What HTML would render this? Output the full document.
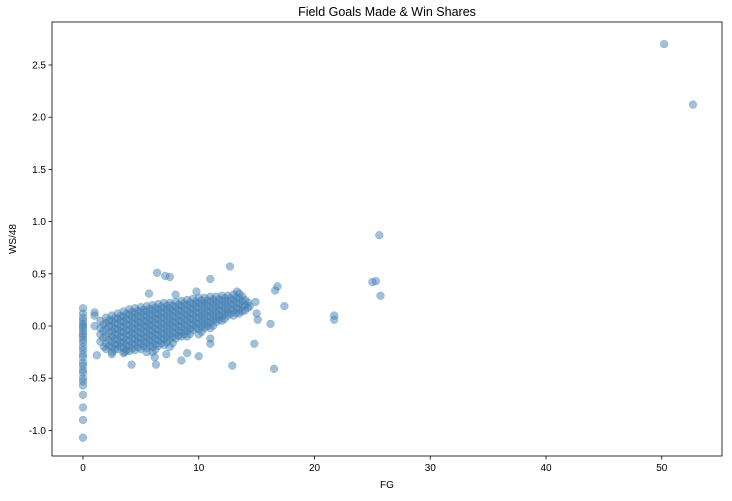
<!DOCTYPE html>
<html><head><meta charset="utf-8"><style>
body{margin:0;background:#fff;font-family:"Liberation Sans",sans-serif}
svg text{font-family:"Liberation Sans",sans-serif;font-size:10px;fill:#000}
</style></head><body>
<svg id="chart" width="732" height="496"></svg>
<script>
const colFg=[1.5,2,2.5,3,3.5,4,4.5,5,5.5,6,6.5,7,7.5,8,8.5,9,9.5,10,10.5,11,11.5,12,12.5,13,13.5,14];
const colWs=[
[0.05,-0.02,-0.08,-0.15],
[0.08,0.03,-0.03,-0.1,-0.17,-0.22],
[0.1,0.05,0,-0.05,-0.1,-0.15,-0.2,-0.25],
[0.12,0.07,0.02,-0.03,-0.08,-0.13,-0.18,-0.22],
[0.14,0.09,0.04,-0.01,-0.06,-0.11,-0.16,-0.21,-0.26],
[0.16,0.11,0.06,0.01,-0.04,-0.09,-0.14,-0.19,-0.24],
[0.17,0.12,0.07,0.02,-0.03,-0.08,-0.13,-0.18,-0.23],
[0.18,0.13,0.08,0.03,-0.02,-0.07,-0.12,-0.17,-0.22],
[0.19,0.14,0.09,0.04,-0.01,-0.06,-0.11,-0.16,-0.21],
[0.2,0.15,0.1,0.05,0,-0.05,-0.1,-0.15,-0.2,-0.25],
[0.21,0.16,0.11,0.06,0.01,-0.04,-0.09,-0.14,-0.19],
[0.22,0.17,0.12,0.07,0.02,-0.03,-0.08,-0.13,-0.18],
[0.22,0.17,0.12,0.07,0.02,-0.03,-0.08,-0.13,-0.2],
[0.23,0.18,0.13,0.08,0.03,-0.02,-0.07,-0.12],
[0.24,0.19,0.14,0.09,0.04,-0.01,-0.06,-0.1],
[0.25,0.2,0.15,0.1,0.05,0,-0.05,-0.1],
[0.26,0.21,0.16,0.11,0.06,0.01,-0.04],
[0.27,0.22,0.17,0.12,0.07,0.02,-0.03,-0.08],
[0.27,0.22,0.17,0.12,0.07,0.02,-0.02],
[0.28,0.23,0.18,0.13,0.08,0.03,-0.02],
[0.28,0.23,0.18,0.13,0.08,0.04],
[0.29,0.24,0.19,0.14,0.09,0.05],
[0.29,0.24,0.19,0.14,0.1],
[0.3,0.25,0.2,0.15,0.1],
[0.31,0.26,0.21,0.16,0.12],
[0.25,0.2,0.15]];
const zeroFgWs=[0.17,0.12,0.08,0.05,0.02,0,-0.02,-0.05,-0.08,-0.1,-0.13,-0.16,-0.2,-0.23,-0.27,-0.3,-0.35,-0.38,-0.42,-0.45,-0.5,-0.53,-0.57,-0.66,-0.78,-0.9,-1.07];
const outFg=[1,1,1,1.2,1.8,50.2,52.7,25.6,25,25.3,25.7,21.7,21.7,17.4,16.8,16.6,16.5,16.2,15.1,14.8,14.9,12.7,12.9,11,6.4,7.1,7.5,5.7,8,9.8,4.2,6.3,10,8.5,3.6,13.3,14.4,15,11,11,9,7.2,6.2,5.5,2.5];
const outWs=[0.13,0.1,0.0,-0.28,-0.2,2.70,2.12,0.87,0.42,0.43,0.29,0.1,0.06,0.19,0.38,0.34,-0.41,0.02,0.06,-0.17,0.23,0.57,-0.38,0.45,0.51,0.48,0.47,0.31,0.3,0.33,-0.37,-0.37,-0.29,-0.33,-0.25,0.33,0.19,0.12,-0.12,-0.17,-0.26,-0.27,-0.3,-0.25,-0.27];
const xTicks=[0,10,20,30,40,50];
const yTicks=[-1.0,-0.5,0.0,0.5,1.0,1.5,2.0,2.5];

const L=52,R=722,T=22,B=456;
const xs=v=>83+(v)*11.575;
const ys=v=>326-v*104.4;
const svg=document.getElementById('chart');
const NS='http://www.w3.org/2000/svg';
function mk(t,a){const e=document.createElementNS(NS,t);for(const k in a)e.setAttribute(k,a[k]);svg.appendChild(e);return e;}

const title=mk('text',{x:(L+R)/2,y:16,'text-anchor':'middle'});
title.textContent='Field Goals Made & Win Shares';title.style.fontSize='12.5px';



function dot(x,y){const c=mk('circle',{cx:xs(x),cy:ys(y),r:3.9,fill:'#4682b4','fill-opacity':0.5,stroke:'#4682b4','stroke-opacity':0.5,'stroke-width':0.5});

}
zeroFgWs.forEach(w=>dot(0,w));
colFg.forEach((x,i)=>colWs[i].forEach(w=>dot(x,w)));
colFg.forEach((x,i)=>colWs[i].forEach((w,j)=>{if(j>0)dot(x+0.25,(w+colWs[i][j-1])/2);}));
outFg.forEach((x,i)=>dot(x,outWs[i]));

const frame=mk('rect',{x:L,y:T,width:R-L,height:B-T,fill:'none',stroke:'#000','stroke-width':0.8});



xTicks.forEach(t=>{const x=xs(t);mk('line',{x1:x,x2:x,y1:B,y2:B+3.5,stroke:'#000','stroke-width':0.8});
const tx=mk('text',{x:x,y:B+15,'text-anchor':'middle'});tx.textContent=t;

});
yTicks.forEach(t=>{const y=ys(t);mk('line',{x1:L-3.5,x2:L,y1:y,y2:y,stroke:'#000','stroke-width':0.8});
const tx=mk('text',{x:L-6,y:y+3.5,'text-anchor':'end'});tx.textContent=t.toFixed(1);

});

const xl=mk('text',{x:(L+R)/2,y:488,'text-anchor':'middle'});xl.textContent='FG';


const yl=mk('text',{x:16,y:(T+B)/2,'text-anchor':'middle',transform:`rotate(-90 16 ${(T+B)/2})`});yl.textContent='WS/48';


</script>
</body></html>
